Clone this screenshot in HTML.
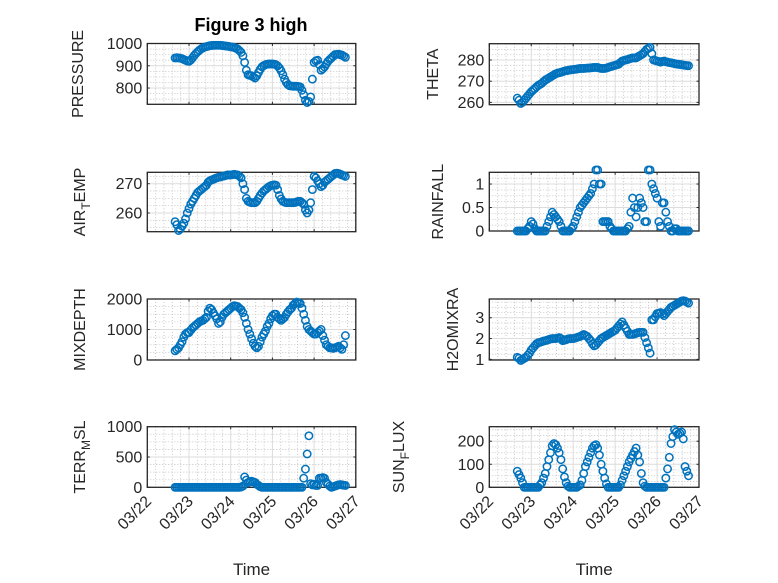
<!DOCTYPE html>
<html><head><meta charset="utf-8"><style>
html,body{margin:0;padding:0;background:#fff;}
svg{display:block;font-family:"Liberation Sans",sans-serif;}
</style></head><body>
<svg id="fig" width="778" height="583" viewBox="0 0 778 583">
<text x="251" y="31" text-anchor="middle" font-size="18" font-weight="bold" fill="#000">Figure 3 high</text>
</svg>
<script>
const pressure=[935,936,935,934,932,928,925,921,920,926,935,946,955,963,970,976,980,984,986,988,990,991,992,992,992,992,992,991,990,989,988,987,985,984,982,979,975,968,960,945,915,880,860,857,855,850,845,855,870,884,895,901,905,907,908,908,908,907,905,899,890,877,860,840,825,815,810,809,808,808,808,807,805,790,770,745,735,740,760,840,915,922,925,905,880,887,895,908,920,928,935,943,950,951,952,950,948,943,938];
const airTemp=[257,256,254,254.5,255.5,256.5,258,260,261.5,263,264,265,266,267,267.5,268,268.5,269,269.5,270.5,271,271.3,271.5,271.8,272,272.2,272.3,272.5,272.6,272.8,273,273,273,273.1,273.2,273.1,273,272.6,272,270,268,265,264,263.7,263.5,263.5,263.5,264,265,266,266.8,267.5,268,268.5,269,269.3,269.5,269.6,269.5,268,266,264.8,264,263.7,263.5,263.5,263.5,263.5,263.5,263.6,263.8,264,264,263.5,263,261,260,261,263.5,268,272.5,272,271,270,269,269.5,270.5,271,271.5,272,272.5,273,273.5,273.6,273.5,273.3,273,272.8,272.5];
const mixDepth=[300,350,400,500,600,750,850,900,900,980,1050,1100,1150,1200,1250,1280,1300,1350,1400,1600,1700,1650,1550,1450,1350,1200,1250,1400,1500,1550,1600,1650,1700,1750,1780,1770,1750,1700,1650,1550,1400,1200,1000,850,700,550,450,400,450,600,750,850,950,1100,1200,1350,1450,1500,1500,1400,1350,1300,1350,1400,1500,1580,1650,1700,1800,1850,1900,1880,1850,1700,1500,1300,1100,1000,950,900,850,850,900,950,1000,800,650,500,450,400,400,380,400,420,450,400,350,500,800];
const terrMsl=[0,0,0,0,0,0,0,0,0,0,0,0,0,0,0,0,0,0,0,0,0,0,0,0,0,0,0,0,0,0,0,0,0,0,0,0,0,0,5,20,170,120,80,90,100,90,80,50,30,10,0,0,0,0,0,0,0,0,0,0,0,0,0,0,0,0,0,0,0,0,0,0,0,0,150,300,550,850,60,40,50,30,30,150,150,160,150,80,50,20,0,10,20,30,40,45,40,35,30];
const theta=[262,261,259.5,260,261,262,263,264,265,265.8,266.5,267.3,268,268.5,269,269.8,270.5,271,271.5,272,272.5,273,273.5,273.8,274,274.2,274.5,274.8,275,275.1,275.3,275.4,275.5,275.6,275.7,275.9,276,276,276,276.1,276.2,276.2,276.3,276.4,276.5,276.5,276.5,276.2,276,276,276,276.2,276.5,276.8,277,277.3,277.5,277.8,278,278.8,279.5,279.8,280,280.2,280.5,280.8,281,281,281,281.5,282,282.5,283,284,285,285.5,286,283,280,279.8,279.5,279.3,279,279.3,279.5,279.2,279,278.8,278.7,278.5,278.3,278.1,278,277.9,277.8,277.6,277.5,277.4,277.3];
const rainfall=[0,0,0,0,0,0,0.05,0.1,0.2,0.15,0.05,0,0,0,0,0,0,0.1,0.2,0.3,0.4,0.35,0.3,0.25,0.2,0.1,0,0,0,0,0,0.05,0.1,0.2,0.3,0.4,0.5,0.55,0.6,0.65,0.7,0.75,0.8,0.9,1.0,1.3,1.3,1.0,1.0,0.2,0.2,0.2,0.2,0.1,0.05,0,0,0,0,0,0,0,0,0.05,0.1,0.4,0.7,0.5,0.3,0.5,0.7,0.6,0.5,0.2,0.2,1.3,1.3,1.0,0.9,0.8,0.7,0.2,0.1,0.6,0.6,0.4,0.2,0.1,0,0,0.05,0.05,0,0,0,0,0,0,0];
const h2oMix=[1.1,1.05,0.95,1.0,1.05,1.1,1.2,1.3,1.45,1.55,1.65,1.75,1.8,1.82,1.85,1.88,1.9,1.92,1.95,1.98,2.0,2.0,2.0,2.02,2.05,2.0,1.9,1.92,1.95,1.98,2.0,2.0,2.0,2.02,2.05,2.08,2.1,2.15,2.2,2.15,2.1,2.0,1.9,1.75,1.65,1.7,1.8,1.9,2.0,2.05,2.1,2.15,2.2,2.25,2.3,2.35,2.4,2.5,2.6,2.7,2.8,2.65,2.5,2.35,2.2,2.2,2.2,2.22,2.25,2.28,2.3,2.3,2.3,2.05,1.8,1.55,1.3,2.9,2.9,3.05,3.2,3.22,3.25,3.18,3.1,3.2,3.3,3.4,3.5,3.55,3.6,3.65,3.7,3.75,3.8,3.82,3.8,3.75,3.7];
const sunFlux=[70,55,40,20,0,0,0,0,0,0,0,0,0,10,20,40,60,90,120,150,180,190,185,170,150,120,80,45,20,5,0,0,0,0,0,5,10,30,60,90,110,130,150,170,180,185,170,140,100,70,40,15,0,0,0,0,0,0,0,10,30,50,70,90,110,125,140,155,170,140,110,60,20,5,0,0,0,0,0,0,0,0,0,0,0,40,80,130,190,220,250,240,230,235,240,210,90,70,50];
const xTickLabels=["03/22","03/23","03/24","03/25","03/26","03/27"];
const xTickDays=[22,23,24,25,26,27];
const tStart=22.667, tStep=1/24;

const NS="http://www.w3.org/2000/svg";
const svg=document.getElementById('fig');
function mk(tag,attrs,parent){const e=document.createElementNS(NS,tag);for(const k in attrs)e.setAttribute(k,attrs[k]);(parent||svg).appendChild(e);return e;}

const panels=[
 {name:'pressure',data:pressure,x0:147.3,x1:355.8,y0:43.5,y1:104.3,ymin:727,ymax:1000,ticks:[800,900,1000],minor:25,label:'PRESSURE',lx:83,bottom:false},
 {name:'air-temp',data:airTemp,x0:147.3,x1:355.8,y0:172.3,y1:231.7,ymin:253.6,ymax:273.9,ticks:[260,270],minor:2.5,label:['AIR','T','EMP'],lx:85,bottom:false},
 {name:'mixdepth',data:mixDepth,x0:147.3,x1:355.8,y0:299,y1:360,ymin:0,ymax:2000,ticks:[0,1000,2000],minor:250,label:'MIXDEPTH',lx:85,bottom:false},
 {name:'terr-msl',data:terrMsl,x0:147.3,x1:355.8,y0:426.7,y1:487.3,ymin:0,ymax:1000,ticks:[0,500,1000],minor:125,label:['TERR','M','SL'],lx:85,bottom:true},
 {name:'theta',data:theta,x0:489.3,x1:699,y0:43.7,y1:104.7,ymin:258.9,ymax:287.7,ticks:[260,270,280],minor:2.5,label:'THETA',lx:438,bottom:false},
 {name:'rainfall',data:rainfall,x0:489.3,x1:699,y0:172.3,y1:231,ymin:0,ymax:1.25,ticks:[0,0.5,1],minor:0.125,label:'RAINFALL',lx:443,bottom:false},
 {name:'h2omixra',data:h2oMix,x0:489.3,x1:699,y0:299,y1:360,ymin:0.97,ymax:3.9,ticks:[1,2,3],minor:0.25,label:'H2OMIXRA',lx:458,bottom:false},
 {name:'sun-flux',data:sunFlux,x0:489.3,x1:699,y0:426.7,y1:487.3,ymin:0,ymax:263,ticks:[0,100,200],minor:25,label:['SUN','F','LUX'],lx:404,bottom:true}
];

panels.forEach(p=>{
 const xs=t=>p.x0+(t-22)/5*(p.x1-p.x0);
 const ys=v=>p.y1-(v-p.ymin)/(p.ymax-p.ymin)*(p.y1-p.y0);
 const g=mk('g',{});
 
 
 mk('rect',{x:p.x0,y:p.y0,width:p.x1-p.x0,height:p.y1-p.y0,fill:'#fff'},g);
 for(let d=22;d<27;d+=0.2){ if(Math.abs(d-Math.round(d))<1e-6)continue; const x=xs(d);
  mk('line',{x1:x,x2:x,y1:p.y0,y2:p.y1,stroke:'#bbb','stroke-width':0.8,'stroke-dasharray':'1 2'},g);}
 for(let v=Math.ceil(p.ymin/p.minor)*p.minor;v<=p.ymax;v+=p.minor){ if(p.ticks.some(t=>Math.abs(t-v)<1e-6))continue; const y=ys(v);
  mk('line',{x1:p.x0,x2:p.x1,y1:y,y2:y,stroke:'#bbb','stroke-width':0.8,'stroke-dasharray':'1 2'},g);}
 xTickDays.forEach(d=>{const x=xs(d);mk('line',{x1:x,x2:x,y1:p.y0,y2:p.y1,stroke:'#dcdcdc','stroke-width':1},g);
  mk('line',{x1:x,x2:x,y1:p.y1,y2:p.y1-2.5,stroke:'#262626','stroke-width':1},g);mk('line',{x1:x,x2:x,y1:p.y0,y2:p.y0+2.5,stroke:'#262626','stroke-width':1},g);});
 p.ticks.forEach(v=>{const y=ys(v);mk('line',{x1:p.x0,x2:p.x1,y1:y,y2:y,stroke:'#dcdcdc','stroke-width':1},g);
  mk('line',{x1:p.x0,x2:p.x0+2.5,y1:y,y2:y,stroke:'#262626'},g);mk('line',{x1:p.x1,x2:p.x1-2.5,y1:y,y2:y,stroke:'#262626'},g);
  const t=mk('text',{x:p.x0-5,y:y+5.5,'text-anchor':'end','font-size':16,fill:'#262626'},g);t.textContent=String(v);
  
  });
 mk('rect',{x:p.x0,y:p.y0,width:p.x1-p.x0,height:p.y1-p.y0,fill:'none',stroke:'#262626','stroke-width':1.3},g);
 p.data.forEach((v,i)=>{const c=mk('circle',{cx:xs(tStart+i*tStep),cy:ys(v),r:3.7,fill:'none',stroke:'#0072BD','stroke-width':1.5},g);
  
  });
 const cy=(p.y0+p.y1)/2;
 const lab=mk('text',{x:0,y:0,'text-anchor':'middle','font-size':16,fill:'#262626',transform:`translate(${p.lx},${cy}) rotate(-90)`},g);
 
 
 if(typeof p.label==='string'){lab.textContent=p.label;}
 else{const a=mk('tspan',{},lab);a.textContent=p.label[0];
  const b=mk('tspan',{dy:5,'font-size':12},lab);b.textContent=p.label[1];
  const c=mk('tspan',{dy:-5},lab);c.textContent=p.label[2];}
 if(p.bottom){
  xTickDays.forEach((d,i)=>{const x=xs(d);const t=mk('text',{x:0,y:0,'text-anchor':'end','font-size':16,fill:'#262626',transform:`translate(${x+5},${p.y1+15}) rotate(-45)`},g);
   t.textContent=xTickLabels[i];
   
   });
  const tl=mk('text',{x:(p.x0+p.x1)/2,y:575,'text-anchor':'middle','font-size':17,fill:'#262626'},g);
  tl.textContent='Time';
  
  
 }
});
</script>
</body></html>
